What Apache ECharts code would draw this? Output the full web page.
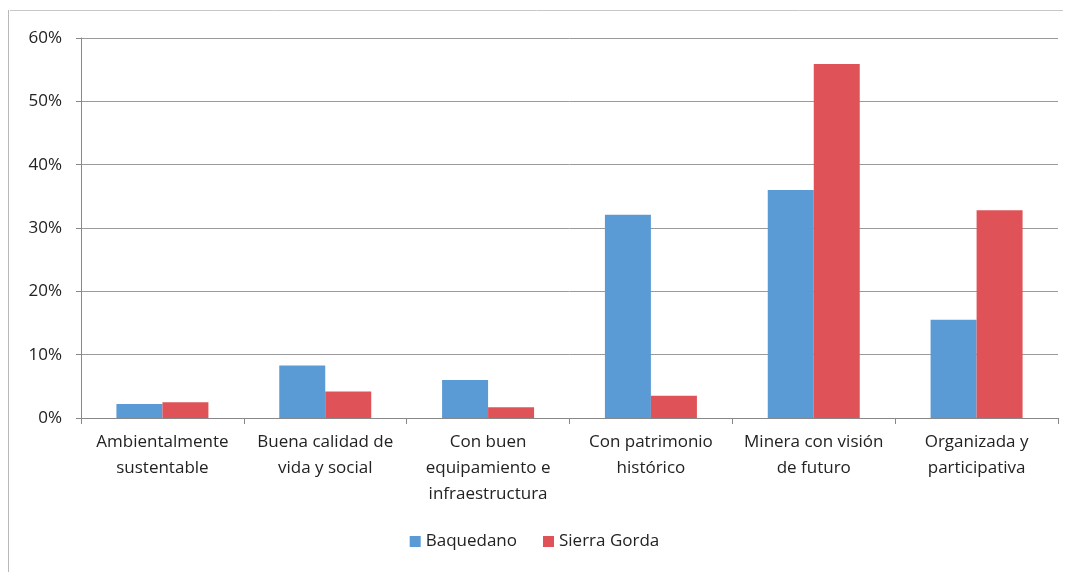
<!DOCTYPE html>
<html>
<head>
<meta charset="utf-8">
<script src="https://cdn.jsdelivr.net/npm/echarts@6/dist/echarts.min.js"></script>
<style>
html,body{margin:0;padding:0;background:#fff;}
#chart{width:1069px;height:572px;}
</style>
</head>
<body>
<div id="chart"></div>
<script>
const categories = ["Ambientalmente sustentable","Buena calidad de vida y social","Con buen equipamiento e infraestructura","Con patrimonio histórico","Minera con visión de futuro","Organizada y participativa"];
const tickLabels = ["Ambientalmente\nsustentable","Buena calidad de\nvida y social","Con buen\nequipamiento e\ninfraestructura","Con patrimonio\nhistórico","Minera con visión\nde futuro","Organizada y\nparticipativa"];
const seriesNames = ["Baquedano","Sierra Gorda"];
const baquedano = [2.2, 8.3, 6.0, 32.1, 36.0, 15.5];
const sierraGorda = [2.5, 4.2, 1.7, 3.5, 55.9, 32.8];
const yTicks = [0, 10, 20, 30, 40, 50, 60];

const FONT = "'Open Sans', 'Noto Sans', sans-serif";
const chart = echarts.init(document.getElementById('chart'), null, {renderer:'canvas'});
chart.setOption({
  backgroundColor:'#ffffff',
  animation:false,
  graphic:[
    {type:'line', shape:{x1:10,y1:10.5,x2:1063,y2:10.5}, style:{stroke:'#c8c8c8',lineWidth:1}},
    {type:'line', shape:{x1:8.5,y1:10,x2:8.5,y2:572}, style:{stroke:'#b8b8b8',lineWidth:1}}
  ],
  grid:{left:81, right:11, top:38, bottom:154, containLabel:false},
  legend:{
    data:seriesNames, bottom:17, left:'center', itemWidth:11, itemHeight:11, itemGap:26,
    icon:'rect', textStyle:{fontFamily:FONT, fontSize:17, color:'#222'}
  },
  xAxis:{
    type:'category', data:categories,
    axisLine:{lineStyle:{color:'#888',width:1}},
    axisTick:{show:true, length:6, lineStyle:{color:'#888'}},
    axisLabel:{
      interval:0, margin:11, fontFamily:FONT, fontSize:17, color:'#222', lineHeight:26,
      formatter:function(v, i){ return tickLabels[i]; }
    }
  },
  yAxis:{
    type:'value', min:yTicks[0], max:yTicks[yTicks.length-1], interval:10,
    axisLine:{show:true, lineStyle:{color:'#888'}},
    axisTick:{show:true, length:5, lineStyle:{color:'#888'}},
    splitLine:{lineStyle:{color:'#9a9a9a',width:1}},
    axisLabel:{fontFamily:FONT, fontSize:17, color:'#222', margin:19, formatter:'{value}%'}
  },
  series:[
    {name:seriesNames[0], type:'bar', data:baquedano, barWidth:46, barGap:'0%', itemStyle:{color:'#5b9bd5'}},
    {name:seriesNames[1], type:'bar', data:sierraGorda, barWidth:46, barGap:'0%', itemStyle:{color:'#df5358'}}
  ]
});
</script>
</body>
</html>
